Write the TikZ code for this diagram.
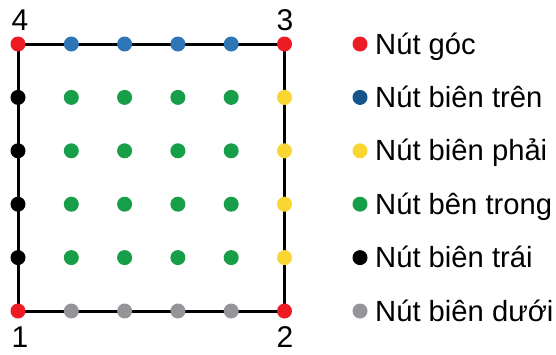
\documentclass[tikz,border=0pt]{standalone}
\usepackage{fontspec}
\setmainfont{Liberation Sans}
\usetikzlibrary{backgrounds}
\definecolor{cred}{RGB}{237,28,36}
\definecolor{cblue}{RGB}{46,117,182}
\definecolor{cblueL}{RGB}{22,84,140}
\definecolor{cyellow}{RGB}{250,214,50}
\definecolor{cgreen}{RGB}{22,158,72}
\definecolor{cgrey}{RGB}{147,149,152}
\tikzset{
  dot/.style={circle,inner sep=0pt,minimum size=15pt,fill=#1,draw=none},
  frame/.style={line width=3pt,black},
  lab/.style={font=\fontsize{29.2}{31}\selectfont,inner sep=0pt,anchor=base west},
  num/.style={font=\fontsize{30}{32}\selectfont,inner sep=0pt,anchor=base}
}
\begin{document}
\begin{tikzpicture}[x=1pt,y=-1pt]
\useasboundingbox (0,0) rectangle (556,354);
% grid nodes
\foreach \i in {0,...,5}{
  \foreach \j in {0,...,5}{
    \pgfmathsetmacro{\px}{18+53.3*\i}
    \pgfmathsetmacro{\py}{44+53.4*\j}
    \pgfmathtruncatemacro{\ci}{(\i==0 || \i==5) ? 1 : 0}
    \pgfmathtruncatemacro{\cj}{(\j==0 || \j==5) ? 1 : 0}
    \ifnum\ci=1
      \ifnum\cj=1 \def\col{cred}
      \else \ifnum\i=0 \def\col{black}\else\def\col{cyellow}\fi\fi
    \else
      \ifnum\cj=1 \ifnum\j=0 \def\col{cblue}\else\def\col{cgrey}\fi
      \else \def\col{cgreen}\fi
    \fi
    \node[dot=\col] (g\i\j) at (\px,\py) {};
  }
}
\begin{pgfonlayer}{background}
\draw[frame] (g00.center) -- (g50.center) -- (g55.center) -- (g05.center) -- cycle;
\end{pgfonlayer}
% corner numbers
\node[num] (n4) at (20,30) {4};
\node[num] (n3) at (285,30) {3};
\node[num] (n1) at (20,347) {1};
\node[num] (n2) at (285,347) {2};
% legend
\node[dot=cred]    (l1) at (360,44) {};
\node[dot=cblueL]  (l2) at (360,97.4) {};
\node[dot=cyellow] (l3) at (360,150.8) {};
\node[dot=cgreen]  (l4) at (360,204.2) {};
\node[dot=black]   (l5) at (360,257.6) {};
\node[dot=cgrey]   (l6) at (360,311) {};
\node[lab] (t1) at (375,54) {Nút góc};
\node[lab] (t2) at (375,107.4) {Nút biên trên};
\node[lab] (t3) at (375,160.8) {Nút biên phải};
\node[lab] (t4) at (375,214.2) {Nút bên trong};
\node[lab] (t5) at (375,267.6) {Nút biên trái};
\node[lab] (t6) at (375,321) {Nút biên dưới};
\end{tikzpicture}
\end{document}
